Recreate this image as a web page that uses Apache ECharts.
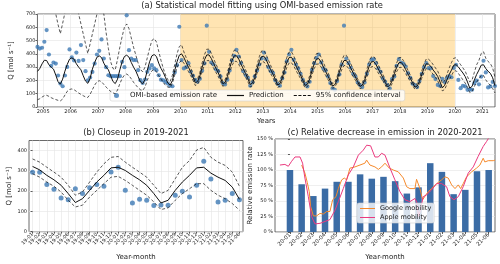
<!DOCTYPE html>
<html><head><meta charset="utf-8">
<script src="https://cdn.jsdelivr.net/npm/echarts@6/dist/echarts.min.js"></script>
<style>html,body{margin:0;padding:0;background:#fff}#c{width:500px;height:264px}</style>
</head><body><div id="c"></div>
<script>
// Monthly series, first value = October 2004, last = June 2021
const obs = [
 452,440,446,
 491,579,395,310,335,327,237,176,156,237,302,433,
 373,350,410,347,466,353,270,201,222,264,327,395,
 423,509,365,300,239,232,232,232,232,232,340,300,
 690,428,365,353,353,277,202,181,207,265,290,315,
 290,277,239,206,201,189,176,160,156,260,315,604,
 353,290,300,330,265,235,205,190,212,272,328,612,
 415,335,320,285,270,230,180,170,205,275,350,385,
 430,380,330,270,240,220,160,185,230,275,320,365,
 410,360,300,270,255,200,175,160,215,260,345,395,
 430,355,320,290,250,205,175,155,190,280,330,370,
 395,335,290,275,230,180,140,130,195,245,320,612,
 365,330,295,250,230,185,165,150,185,250,320,355,
 360,330,290,265,215,190,165,140,210,230,310,360,
 335,325,305,255,220,175,165,150,195,250,300,330,
 293,293,233,210,166,158,212,188,217,233,224,294,
 318,204,142,160,155,129,132,130,180,199,171,229,
 348,260,147,155,188,158];
const pred = [
 268,290,325,
 352,350,318,300,285,240,190,172,210,270,320,360,
 370,360,325,300,280,235,195,178,215,285,335,375,
 385,372,330,300,280,235,192,176,210,280,340,380,
 390,375,335,300,270,230,188,175,205,275,340,385,
 395,380,330,290,260,220,180,165,200,275,340,390,
 400,372,335,300,265,225,182,192,235,300,355,392,
 392,365,328,292,258,218,175,185,228,292,348,385,
 386,360,322,286,252,212,170,180,222,286,342,380,
 382,355,316,280,246,206,166,176,218,280,335,372,
 375,348,310,274,240,200,162,172,212,272,326,362,
 364,338,301,266,233,195,158,168,206,264,315,350,
 350,326,292,258,226,190,155,165,200,256,306,340,
 342,320,286,253,221,186,152,162,196,250,298,333,
 336,314,281,248,216,182,149,158,192,244,292,326,
 322,305,278,256,229,188,144,163,204,245,278,315,
 318,302,278,256,229,188,142,155,204,245,278,315,
 318,289,269,253,220,160];
const upper = [
 820,920,1000,
 1050,1000,950,850,780,700,620,552,630,710,820,900,
 950,880,780,700,625,550,475,403,475,550,625,700,
 760,740,700,560,440,340,290,280,360,450,530,600,
 625,590,520,450,390,330,285,264,300,370,440,500,
 515,490,420,350,290,240,205,192,240,320,400,455,
 468,415,372,333,294,250,202,213,261,333,394,435,
 435,405,364,324,286,242,194,205,253,324,386,427,
 428,400,357,317,280,235,189,200,246,317,380,422,
 424,394,351,311,273,229,184,195,242,311,372,413,
 416,386,344,304,266,222,180,191,235,302,362,402,
 404,375,334,295,259,216,175,186,229,293,350,389,
 389,362,324,286,251,211,172,183,222,284,340,377,
 380,355,317,281,245,206,169,180,218,278,331,370,
 373,349,312,275,240,202,165,175,213,271,324,362,
 359,343,318,294,269,229,180,196,245,294,335,367,
 371,343,318,294,269,229,188,204,261,318,351,403,
 416,367,343,327,294,224];
const lower = [
 55,62,75,
 85,88,80,70,62,56,50,46,60,90,118,132,
 136,130,118,105,95,85,76,72,95,130,165,190,
 198,190,170,150,133,117,106,100,128,175,215,240,
 248,236,212,186,165,145,130,124,150,200,245,272,
 282,266,236,210,185,162,150,146,180,240,295,335,
 350,330,298,267,236,200,162,171,209,267,316,349,
 349,325,292,260,230,194,156,165,203,260,310,343,
 344,320,287,255,224,189,151,160,198,255,304,338,
 340,316,281,249,219,183,148,157,194,249,298,331,
 334,310,276,244,214,178,144,153,189,242,290,322,
 324,301,268,237,207,174,141,150,183,235,280,312,
 312,290,260,230,201,169,138,147,178,228,272,303,
 304,285,255,225,197,166,135,144,174,222,265,296,
 299,279,250,221,192,162,133,141,171,217,260,290,
 286,269,245,224,196,155,122,131,171,204,237,269,
 273,253,229,204,180,147,109,118,155,188,212,237,
 237,204,180,163,139,106];
const yearTicks = [2005,2006,2007,2008,2009,2010,2011,2012,2013,2014,2015,2016,2017,2018,2019,2020,2021];
const shadeStart = 2010, shadeEnd = 2020;
const monthsB = ['19-01','19-02','19-03','19-04','19-05','19-06','19-07','19-08','19-09','19-10','19-11','19-12',
 '20-01','20-02','20-03','20-04','20-05','20-06','20-07','20-08','20-09','20-10','20-11','20-12',
 '21-01','21-02','21-03','21-04','21-05','21-06'];
const monthsC = ['20-01','20-02','20-03','20-04','20-05','20-06','20-07','20-08','20-09','20-10','20-11','20-12',
 '21-01','21-02','21-03','21-04','21-05','21-06'];
const relEmission = [100,77,58,70,81,81,93,86,89,82,62,72,111,97,61,68,98,100];
const google = [[1.0,108],[1.28,95],[1.48,80],[1.65,65],[1.77,41],[2.0,26],[2.28,26],[2.57,30],[2.85,29],[3.14,33],[3.42,33],[3.65,52],[3.94,57],[4.14,70],[4.42,84],[4.65,87],[4.85,84],[5.13,103],[5.56,105],[5.99,108],[6.41,111],[6.56,116],[6.84,108],[7.27,105],[7.56,101],[7.84,105],[8.13,111],[8.5,103],[8.84,100],[9.27,97],[9.7,87],[9.98,73],[10.26,70],[10.69,70],[10.83,85],[11.12,70],[11.35,52],[11.63,60],[11.83,65],[12.12,70],[12.55,78],[12.97,84],[13.26,89],[13.54,87],[13.83,76],[14.12,70],[14.4,76],[14.6,70],[14.82,78],[15.11,89],[15.54,97],[15.96,103],[16.25,108],[16.53,119],[16.67,113],[16.96,115],[17.39,115],[17.54,116]];
const apple = [[-0.86,108],[-0.43,109],[-0.14,106],[0.14,114],[0.43,121],[0.86,121],[1.08,111],[1.28,87],[1.57,57],[1.85,25],[2.14,13],[2.57,14],[3.0,17],[3.42,20],[3.85,35],[4.14,49],[4.56,70],[4.99,92],[5.42,105],[5.85,124],[6.27,132],[6.56,140],[6.9,139],[7.27,121],[7.56,121],[7.84,127],[8.13,124],[8.56,103],[8.98,84],[9.41,65],[9.84,52],[10.26,49],[10.69,54],[10.85,48],[11.0,25],[11.15,35],[11.4,57],[11.69,60],[12.12,68],[12.55,78],[12.97,78],[13.4,73],[13.68,57],[14.03,52],[14.4,57],[14.82,73],[15.25,95],[15.68,105],[16.1,122],[16.53,138],[16.82,146],[17.11,155]];

const monthX = k => 2004 + (9 + k + 0.5) / 12;   // mid-month, Oct 2004 = k 0
const B_START = 171;                              // Jan 2019
const toXY = arr => arr.map((v, k) => [monthX(k), v]);
const toIdx = arr => arr.slice(B_START).map((v, i) => [i, v]);
const idxB = monthsB.map((_, i) => i);
const idxC = monthsC.map((_, i) => i);

const FONT = 'DejaVu Sans';
const DOT = '#3d79b4', BAR = '#3b6ca5', ORANGE = '#f5892b', PINK = '#ea3a7e';
const ICON_SOLID = 'path://M0,0H34V2.4H0Z';
const ICON_DASH = 'path://M0,0H6V2H0Z M9,0H15V2H9Z M18,0H24V2H18Z M27,0H33V2H27Z';
const tickStyle = {length: 2, lineStyle: {color: '#333', width: 0.8}};
const labelStyle = {fontSize: 5, color: '#222', margin: 2, fontFamily: FONT};
const split = {show: true, lineStyle: {color: '#e4e4e4', width: 0.6}};
const gridBox = {show: true, borderColor: '#444', borderWidth: 0.8, backgroundColor: 'transparent'};
const nameStyle = {fontSize: 7, color: '#222', fontFamily: FONT};
const titleStyle = {fontSize: 8.3, fontWeight: 'normal', color: '#222', fontFamily: FONT};
const solid = {color: '#111', width: 1.0};
const dashed = {color: '#111', width: 0.7, type: [3, 2]};

const chart = echarts.init(document.getElementById('c'), null, {renderer: 'canvas'});
chart.setOption({
  animation: false,
  textStyle: {fontFamily: FONT},
  title: [
    {text: '(a) Statistical model fitting using OMI-based emission rate', left: 262, top: 2, textAlign: 'center', padding: 0, textStyle: titleStyle},
    {text: '(b) Closeup in 2019-2021', left: 136, top: 129, textAlign: 'center', padding: 0, textStyle: titleStyle},
    {text: '(c) Relative decrease in emission in 2020-2021', left: 385, top: 129, textAlign: 'center', padding: 0, textStyle: titleStyle}
  ],
  grid: [
    Object.assign({left: 28, top: 14, width: 467, height: 93}, gridBox),
    Object.assign({left: 29, top: 140.5, width: 214, height: 91.2}, gridBox),
    Object.assign({left: 275, top: 139, width: 220, height: 93}, gridBox)
  ],
  legend: [
    {left: 110, top: 90, orient: 'horizontal', padding: [2, 4], itemWidth: 17, itemHeight: 5, itemGap: 10,
     backgroundColor: 'rgba(255,255,255,0.8)', borderColor: '#d0d0d0', borderWidth: 0.6, borderRadius: 2,
     textStyle: {fontSize: 7, color: '#222', fontFamily: FONT},
     data: [{name: 'OMI-based emission rate', icon: 'circle'},
            {name: 'Prediction', icon: ICON_SOLID},
            {name: '95% confidence interval', icon: ICON_DASH}]},
    {left: 357, top: 203, orient: 'vertical', padding: [2, 3], itemWidth: 15, itemHeight: 5, itemGap: 2,
     backgroundColor: 'rgba(255,255,255,0.8)', borderColor: '#d0d0d0', borderWidth: 0.6, borderRadius: 2,
     textStyle: {fontSize: 6.5, color: '#222', fontFamily: FONT},
     data: [{name: 'Google mobility', icon: ICON_SOLID}, {name: 'Apple mobility', icon: ICON_SOLID}]}
  ],
  xAxis: [
    {type: 'value', gridIndex: 0, min: 2004.79, max: 2021.46,
     axisLine: {show: false}, axisTick: Object.assign({customValues: yearTicks}, tickStyle),
     axisLabel: Object.assign({customValues: yearTicks, formatter: v => String(v)}, labelStyle),
     splitLine: split, name: 'Years', nameLocation: 'middle', nameGap: 11, nameTextStyle: nameStyle},
    {type: 'value', gridIndex: 1, min: -0.5, max: 29.5,
     axisLine: {show: false}, axisTick: Object.assign({customValues: idxB}, tickStyle),
     axisLabel: Object.assign({customValues: idxB, formatter: v => monthsB[v], rotate: 45}, labelStyle),
     splitLine: split, name: 'Year-month', nameLocation: 'middle', nameGap: 22, nameTextStyle: nameStyle},
    {type: 'value', gridIndex: 2, min: -1.28, max: 17.54,
     axisLine: {show: false}, axisTick: Object.assign({customValues: idxC}, tickStyle),
     axisLabel: Object.assign({customValues: idxC, formatter: v => monthsC[v], rotate: 45}, labelStyle, {fontSize: 5.5}),
     splitLine: {show: false}, name: 'Year-month', nameLocation: 'middle', nameGap: 22, nameTextStyle: nameStyle}
  ],
  yAxis: [
    {type: 'value', gridIndex: 0, min: 0, max: 700, interval: 100,
     axisLine: {show: false}, axisTick: tickStyle, axisLabel: labelStyle, splitLine: split,
     name: 'Q [mol s⁻¹]', nameLocation: 'middle', nameGap: 15, nameRotate: 90, nameTextStyle: nameStyle},
    {type: 'value', gridIndex: 1, min: 0, max: 450,
     axisLine: {show: false}, axisTick: Object.assign({customValues: [0, 100, 200, 300, 400]}, tickStyle),
     axisLabel: Object.assign({customValues: [0, 100, 200, 300, 400]}, labelStyle), splitLine: split,
     name: 'Q [mol s⁻¹]', nameLocation: 'middle', nameGap: 16, nameRotate: 90, nameTextStyle: nameStyle},
    {type: 'value', gridIndex: 2, min: 0, max: 150, interval: 25,
     axisLine: {show: false}, axisTick: tickStyle, axisLabel: Object.assign({formatter: '{value} %'}, labelStyle), splitLine: split,
     name: 'Relative emission rate', nameLocation: 'middle', nameGap: 14, nameRotate: 90, nameTextStyle: nameStyle}
  ],
  series: [
    {name: 'OMI-based emission rate', type: 'scatter', xAxisIndex: 0, yAxisIndex: 0, data: toXY(obs),
     symbolSize: 4.2, itemStyle: {color: DOT}, z: 3},
    {name: 'Prediction', type: 'line', xAxisIndex: 0, yAxisIndex: 0, data: toXY(pred), symbol: 'none',
     lineStyle: solid, itemStyle: {color: '#111'}, z: 4,
     markArea: {silent: true, itemStyle: {color: 'rgba(255,165,0,0.3)'}, data: [[{xAxis: shadeStart}, {xAxis: shadeEnd}]]}},
    {name: '95% confidence interval', type: 'line', xAxisIndex: 0, yAxisIndex: 0, data: toXY(upper), symbol: 'none',
     lineStyle: dashed, itemStyle: {color: '#111'}, z: 4},
    {name: '95% confidence interval', type: 'line', xAxisIndex: 0, yAxisIndex: 0, data: toXY(lower), symbol: 'none',
     lineStyle: dashed, itemStyle: {color: '#111'}, z: 4},

    {name: 'b-obs', type: 'scatter', xAxisIndex: 1, yAxisIndex: 1, data: toIdx(obs), symbolSize: 5, itemStyle: {color: DOT}, z: 3},
    {name: 'b-pred', type: 'line', xAxisIndex: 1, yAxisIndex: 1, data: toIdx(pred), symbol: 'none', lineStyle: solid, z: 4},
    {name: 'b-up', type: 'line', xAxisIndex: 1, yAxisIndex: 1, data: toIdx(upper), symbol: 'none', lineStyle: dashed, z: 4},
    {name: 'b-lo', type: 'line', xAxisIndex: 1, yAxisIndex: 1, data: toIdx(lower), symbol: 'none', lineStyle: dashed, z: 4},

    {name: 'Relative emission', type: 'bar', xAxisIndex: 2, yAxisIndex: 2, data: relEmission.map((v, i) => [i, v]),
     barWidth: 6.5, itemStyle: {color: BAR}, z: 2},
    {name: 'Google mobility', type: 'line', xAxisIndex: 2, yAxisIndex: 2, data: google, symbol: 'none',
     lineStyle: {color: ORANGE, width: 1}, itemStyle: {color: ORANGE}, z: 3},
    {name: 'Apple mobility', type: 'line', xAxisIndex: 2, yAxisIndex: 2, data: apple, symbol: 'none',
     lineStyle: {color: PINK, width: 1}, itemStyle: {color: PINK}, z: 3}
  ]
});
</script>
</body></html>
